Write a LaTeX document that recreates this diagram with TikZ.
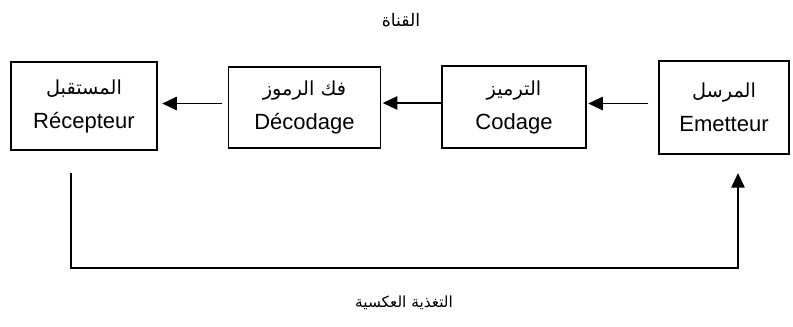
\documentclass[tikz,border=0pt]{standalone}
\usepackage{fontspec}
\setmainfont{Liberation Sans}
\newfontfamily\arabicfont[Script=Arabic]{DejaVu Sans}
\TeXXeTstate=1
\usepackage{tikz}
\usetikzlibrary{arrows.meta,positioning,calc}
\newcommand{\arabtxt}[2][14.5]{{\arabicfont\fontsize{#1}{#1}\selectfont\beginR #2\endR}}

\begin{document}
\begin{tikzpicture}[
  x=0.75pt, y=-0.75pt,
  font=\fontsize{16.5}{25.5}\selectfont,
  >={Triangle[length=11pt,width=10pt]},
  every node/.style={align=center},
  blk/.style   = {draw, line width=1.3pt, inner sep=0pt, text=black},
  flow/.style  = {->, line width=1.3pt},
  lbl/.style   = {inner sep=0pt}
]
\useasboundingbox (0,0) rectangle (793,326);

\node[blk, minimum width=110pt, minimum height=66pt] (recv) at (84,106)
  {\arabtxt{المستقبل}\\ Récepteur};
\node[blk, minimum width=114pt, minimum height=61pt] (dec) at (304.5,107.5)
  {\arabtxt{فك الرموز}\\ Décodage};
\node[blk, minimum width=108pt, minimum height=61pt] (cod) at (514,107)
  {\arabtxt{الترميز}\\ Codage};
\node[blk, minimum width=98pt, minimum height=70pt] (emit) at (724,107.5)
  {\arabtxt{المرسل}\\ Emetteur};

\draw[flow, shorten <=7pt, shorten >=1pt] ([yshift=3pt]emit.west) -- ([yshift=3pt]emit.west -| cod.east);
\draw[flow, shorten >=1pt] ([yshift=3pt]cod.west) -- ([yshift=3pt]cod.west -| dec.east);
\draw[flow, shorten <=4pt, shorten >=3pt] ([yshift=3pt]dec.west) -- ([yshift=3pt]dec.west -| recv.east);

\coordinate (fbStart) at (71,173);
\coordinate (fbEnd) at (738,173);
\draw[flow] (fbStart) -- ++(0,95) -| (fbEnd);

\node[lbl] (chan) at (401,20) {\arabtxt[13]{القناة}};
\node[lbl] (fb) at (404,303) {\arabtxt[11.5]{التغذية العكسية}};
\end{tikzpicture}
\end{document}
